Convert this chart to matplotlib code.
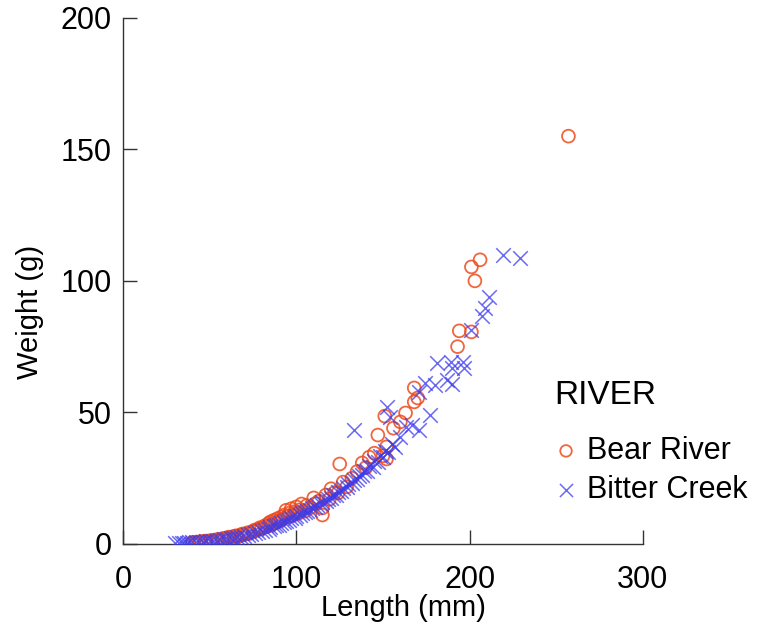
import matplotlib
matplotlib.use("Agg")
import matplotlib.pyplot as plt

plt.rcParams['font.family'] = ['Liberation Sans', 'DejaVu Sans']

# Bear River (length mm, weight g)
bear_len = [40, 42, 44, 45, 47, 48, 50, 51, 52, 54, 55, 57, 58, 60, 61, 62, 64, 65, 66, 68,
            69, 70, 72, 73, 75, 76, 78, 79, 80, 82, 83, 84, 85, 86, 87, 88, 89, 90, 91, 92,
            93, 94, 95, 96, 97, 98, 99, 100, 101, 102, 103, 105, 106, 108, 110, 111, 113, 115, 115, 117,
            119, 120, 122, 124, 125, 127, 129, 132, 135, 138, 140, 142, 145, 147, 150, 152, 152, 151, 156, 160,
            163, 168, 170, 168, 193, 194, 201, 203, 201, 206, 257]
bear_wt = [0.6, 0.7, 0.8, 0.9, 1.0, 1.1, 1.2, 1.3, 1.4, 1.6, 1.7, 1.9, 2.1, 2.3, 2.6, 2.4, 2.9, 3.1, 2.8, 3.5,
           3.8, 3.6, 4.3, 4.0, 4.9, 5.3, 5.6, 6.2, 5.9, 7.0, 6.6, 7.8, 8.4, 7.4, 9.0, 8.1, 9.6, 8.8, 10.2, 9.4,
           11.0, 12.8, 10.5, 11.8, 13.4, 10.9, 12.3, 14.1, 11.6, 13.0, 15.2, 12.5, 14.6, 13.8, 17.5, 15.4, 16.3, 13.7, 11.0, 18.6,
           17.0, 21.0, 19.5, 19.4, 30.4, 23.5, 21.7, 25.0, 27.5, 30.8, 29.0, 33.0, 34.5, 41.4, 33.5, 36.9, 32.3, 48.6, 44.0, 46.4,
           49.8, 54.0, 55.5, 59.3, 75.0, 81.0, 80.6, 100.0, 105.3, 108.0, 155.0]

# Bitter Creek
bitter_len = [30, 32, 34, 35, 37, 38, 40, 42, 44, 46, 48, 50, 52, 54, 56, 58, 60, 62, 64, 66,
              68, 70, 72, 74, 76, 78, 80, 82, 84, 85, 87, 88, 90, 91, 93, 94, 96, 97, 99, 100,
              102, 103, 105, 106, 108, 109, 111, 112, 114, 115, 117, 118, 120, 121, 123, 124, 126, 127, 129, 130,
              132, 133, 135, 136, 138, 139, 141, 142, 144, 145, 147, 148, 150, 151, 153, 155, 157, 133, 152, 154,
              160, 163, 167, 171, 171, 174, 177, 180, 181, 187, 189, 190, 190, 196, 197, 201, 207, 209, 211, 219,
              229]
bitter_wt = [0.3, 0.4, 0.4, 0.5, 0.5, 0.6, 0.7, 0.8, 0.8, 0.9, 1.0, 1.1, 1.2, 1.3, 1.5, 1.7, 1.9, 2.1, 2.3, 2.5,
             2.8, 3.1, 3.4, 3.8, 4.1, 4.5, 4.9, 5.4, 5.8, 6.3, 6.7, 7.2, 7.4, 8.0, 8.3, 8.9, 9.1, 9.8, 10.0, 10.6,
             11.0, 11.6, 12.0, 12.7, 12.9, 13.7, 14.0, 14.8, 15.1, 16.0, 16.3, 17.2, 17.6, 18.5, 18.8, 19.8, 20.2, 21.3, 21.5, 22.8,
             23.0, 24.3, 24.6, 26.0, 26.1, 27.8, 27.6, 29.5, 29.2, 31.5, 31.0, 33.5, 33.0, 35.5, 35.0, 38.0, 37.0, 43.3, 52.1, 48.3,
             40.7, 44.5, 45.2, 43.3, 57.8, 61.2, 49.0, 60.4, 68.8, 62.3, 69.2, 66.9, 60.8, 69.2, 66.9, 81.3, 86.6, 89.7, 93.9, 109.8,
             108.7]

x_ticks = [0, 100, 200, 300]
y_ticks = [0, 50, 100, 150, 200]

fig = plt.figure(figsize=(7.6, 6.34), dpi=100)
ax = fig.add_axes([0.162, 0.142, 0.684, 0.830])

ax.scatter(bear_len, bear_wt, s=85, facecolors='none', edgecolors='#ee4b1c',
           linewidths=1.3, alpha=0.85, label='Bear River', zorder=3)
ax.scatter(bitter_len, bitter_wt, s=110, marker='x', color='#3a3aee',
           linewidths=1.1, alpha=0.75, label='Bitter Creek', zorder=3)

ax.set_xlim(0, 300)
ax.set_ylim(0, 200)
ax.set_xticks(x_ticks)
ax.set_yticks(y_ticks)
ax.tick_params(direction='in', length=10, width=1, color='#333333', labelsize=22)
ax.tick_params(axis='x', pad=15)
ax.tick_params(axis='y', pad=8)
for side in ['top', 'right']:
    ax.spines[side].set_visible(False)
for side in ['left', 'bottom']:
    ax.spines[side].set_color('#333333')
    ax.spines[side].set_linewidth(1)

ax.set_xlabel('Length (mm)', fontsize=21)
ax.set_ylabel('Weight (g)', fontsize=21)
ax.xaxis.set_label_coords(0.54, -0.095)
ax.yaxis.set_label_coords(-0.153, 0.44)

leg = ax.legend(title='RIVER', loc='upper left', bbox_to_anchor=(0.805, 0.335),
                frameon=False, fontsize=22, title_fontsize=24, handletextpad=0.3,
                borderaxespad=0, labelspacing=0.3, handlelength=0.8, markerscale=0.9)
leg._legend_box.align = 'left'
leg._legend_box.sep = 18

fig.savefig('out.png', dpi=100)
